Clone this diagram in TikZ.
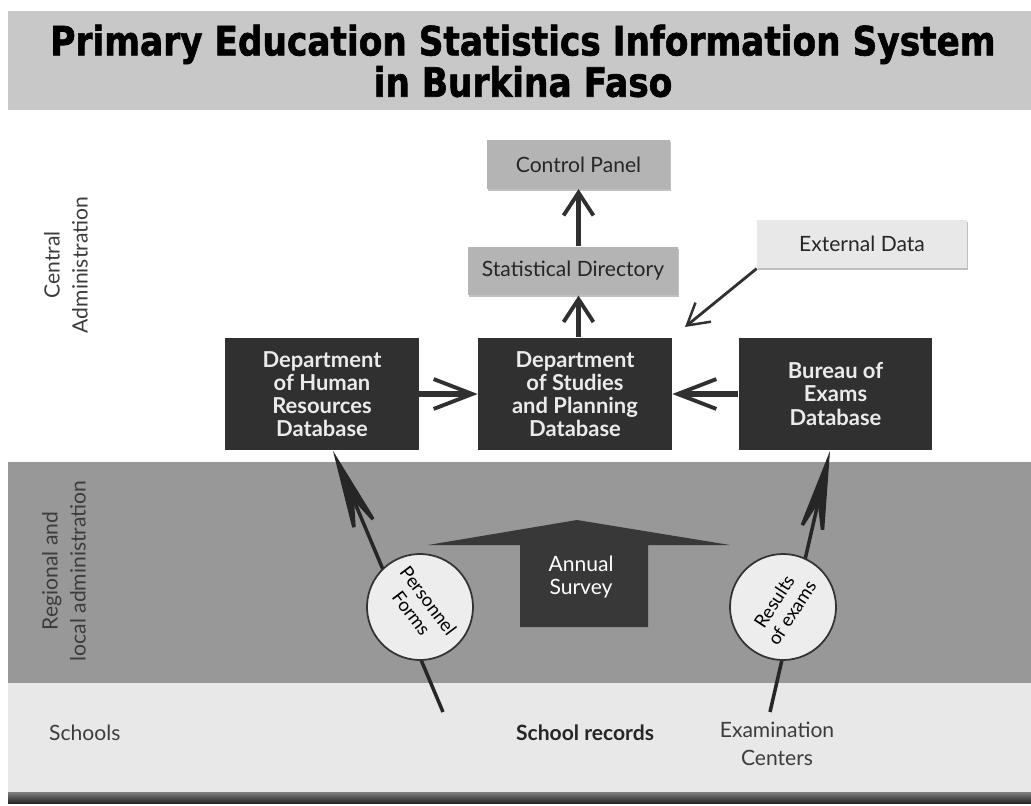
\documentclass[tikz,border=0pt]{standalone}
\usepackage{fontspec}
\setmainfont{Lato}
\newfontfamily\titlefont{DejaVu Sans}[BoldFeatures={FakeBold=1.6}]
\usetikzlibrary{arrows.meta,shadows,positioning}
\definecolor{bandgray}{RGB}{200,200,200}
\definecolor{regiongray}{RGB}{152,152,152}
\definecolor{schoolgray}{RGB}{232,232,232}
\definecolor{boxgray}{RGB}{180,180,180}
\definecolor{lightbox}{RGB}{232,232,232}
\definecolor{darkbox}{RGB}{48,48,48}
\definecolor{labelgray}{RGB}{60,60,60}

\begin{document}
\begin{tikzpicture}[x=0.02cm, y=-0.02cm,
  greybox/.style={fill=boxgray, minimum height=0.97cm, font=\fontsize{12}{14}\selectfont, text=black!85,
    drop shadow={shadow xshift=0.5pt, shadow yshift=-1.2pt, opacity=0.5}},
  dbbox/.style={fill=darkbox, minimum width=3.88cm, minimum height=2.26cm, align=center, text=white!92!black,
    font=\bfseries\fontsize{12.5}{13.2}\selectfont},
  sidelabel/.style={text=labelgray, align=center, font=\fontsize{12}{16}\selectfont},
  formcircle/.style={circle, draw=black!80, line width=1pt, fill=white!93!black, minimum size=2.12cm,
    inner sep=0pt, align=center, font=\fontsize{10.5}{12}\selectfont},
  vflow/.style={draw=darkbox, line width=3pt, -{Straight Barb[length=13pt, width=17pt, line width=2.2pt]}},
  hflow/.style={draw=darkbox, line width=3pt, -{Straight Barb[length=22pt, width=17pt, line width=2.2pt]}},
  thinflow/.style={draw=darkbox, line width=1.6pt, -{Straight Barb[length=12pt, width=14pt, line width=1.4pt]}},
  longflow/.style={draw=black!85, line width=2pt, -{Stealth[length=55pt, width=17pt, inset=24pt]}}]
\useasboundingbox (0,0) rectangle (1031,805);

% Bands
\fill[bandgray] (8,11) rectangle (1031,110);
\fill[regiongray] (8,462) rectangle (1031,683);
\fill[schoolgray] (8,683) rectangle (1031,792);
\shade[top color=gray, bottom color=black!85] (8,792) rectangle (1031,803);

% Title
\node[font=\titlefont\bfseries\fontsize{23}{23.5}\selectfont, align=center] (title) at (523,61)
  {\scalebox{0.85}[1]{Primary Education Statistics Information System}\\\scalebox{0.85}[1]{in Burkina Faso}};

% Levels
\node[sidelabel, rotate=90] (central) at (66,265) {Central\\Administration};
\node[sidelabel, rotate=90] (regional) at (64,571) {Regional and\\local administration};
\node[sidelabel, anchor=west] (schools) at (43,733) {Schools};
\node[sidelabel, font=\bfseries\fontsize{12}{16}\selectfont, text=black!85] (records) at (585,733) {School records};
\node[sidelabel] (centers) at (777,744) {Examination\\Centers};

% Central administration
\node[greybox, minimum width=3.66cm] (cpanel) at (578.5,164.5) {Control Panel};
\node[greybox, minimum width=4.2cm] (statdir) at (573,271) {Statistical Directory};
\node[greybox, fill=lightbox, minimum width=4.2cm] (extdata) at (862,244) {External Data};

\node[dbbox] (hrdb) at (322,394) {Department\\of Human\\Resources\\Database};
\node[dbbox] (studiesdb) at (575,394) {Department\\of Studies\\and Planning\\Database};
\node[dbbox] (examsdb) at (835.5,394) {Bureau of\\Exams\\Database};

\draw[vflow] (statdir.north -| cpanel.south) -- (cpanel.south);
\draw[vflow] (studiesdb.north -| cpanel.south) -- (statdir.south -| cpanel.south);
\draw[hflow] (hrdb.east) -- (studiesdb.west);
\draw[hflow] (examsdb.west) -- (studiesdb.east);

\coordinate (extin) at (685,327);
\draw[thinflow] (extdata.south west) -- (extin);

% Forms going up
\coordinate (formsfoot) at (443,712);
\coordinate (resultsfoot) at (770,712);
\draw[longflow] (formsfoot) -- ([xshift=0.22cm]hrdb.south);
\draw[longflow] (resultsfoot) -- ([xshift=-0.11cm]examsdb.south);

\node[formcircle, rotate=-53] (forms) at (420,607) {Personnel\\Forms};
\node[formcircle, rotate=57] (results) at (783,607) {Results\\of exams};

% Annual survey
\shade[left color=black!78, middle color=black!58, right color=black!78]
  (428,545) -- (577,520) -- (730,545) -- (648,545) -- (648,627) -- (520,627) -- (520,545) -- cycle;
\node[text=white, align=center, font=\fontsize{12}{13}\selectfont] (survey) at (581,577) {Annual\\Survey};
\end{tikzpicture}
\end{document}
